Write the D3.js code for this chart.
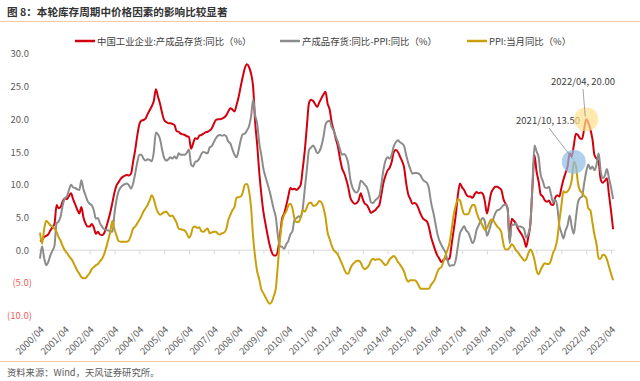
<!DOCTYPE html>
<html><head><meta charset="utf-8">
<script src="https://cdn.jsdelivr.net/npm/d3@7"></script>
<style>
body{margin:0;background:#fff}
svg{display:block}
text{font-family:"Noto Sans CJK SC","Noto Sans",sans-serif}
</style>
</head><body>
<svg id="c" width="640" height="381"></svg>
<script>
// ---------------- DATA (monthly, 2000/04 – 2023/05) ----------------
const startYear = 2000, startMonth = 4;

const seriesNames = ["中国工业企业:产成品存货:同比（%）", "产成品存货:同比-PPI:同比（%）", "PPI:当月同比（%）"];

const inventoryYoY = [
  1.4,1.6,2.0,2.2,2.4,3.0,3.5,4.0,6.9,
  6.4,6.6,7.5,7.9,7.8,8.3,8.7,7.8,7.0,6.2,5.6,6.6,
  5.0,4.1,3.6,3.6,4.0,3.5,2.5,2.8,2.4,2.3,2.6,3.5,
  4.6,5.8,7.3,8.8,9.9,10.4,10.9,11.2,11.4,11.5,11.4,11.7,
  13.5,15.3,17.5,19.2,19.8,19.9,20.1,20.8,21.4,22.0,22.8,24.6,
  23.5,22.4,21.0,19.9,19.6,19.4,19.4,19.3,19.1,18.2,18.1,17.8,
  17.7,17.6,17.4,17.3,15.5,16.3,17.1,17.0,17.5,17.6,17.8,18.0,
  18.1,18.3,18.6,19.3,19.9,20.0,20.0,20.1,20.3,20.6,21.2,21.7,
  21.5,21.2,22.2,23.4,25.0,26.5,27.8,28.4,28.0,27.0,25.0,19.5,
  16.0,11.8,8.5,5.8,4.0,2.3,0.8,-0.3,-0.8,-0.8,0.0,2.3,
  4.8,5.6,6.8,8.2,9.5,9.3,9.4,9.2,9.5,10.0,12.5,15.3,
  19.0,22.5,23.0,22.8,22.3,21.9,22.6,23.2,23.8,24.2,22.4,21.5,
  19.5,18.3,17.0,15.8,14.0,12.5,11.8,10.8,9.6,8.0,7.4,7.1,
  7.2,7.6,8.7,7.8,7.1,6.9,6.3,5.7,5.9,6.1,6.5,6.9,
  8.5,10.3,11.4,12.2,12.6,13.5,15.0,15.3,15.0,14.3,13.6,12.6,
  10.2,8.5,7.8,7.1,7.2,7.0,6.3,5.5,4.9,4.6,4.4,3.5,
  2.0,1.0,0.0,-0.8,-1.3,-1.8,-1.5,-1.2,-1.5,-1.2,1.0,3.2,
  5.5,8.5,10.2,9.6,9.2,8.5,8.2,8.2,8.0,8.5,8.9,8.7,
  8.8,8.6,7.5,5.6,7.0,8.7,9.3,9.7,9.7,9.5,9.2,7.8,
  7.1,6.4,1.5,4.8,4.5,4.1,3.3,2.8,2.3,1.6,0.5,2.0,
  4.0,9.5,14.5,12.0,10.5,8.5,8.2,7.6,7.4,7.6,7.0,6.9,
  8.0,8.4,8.2,9.5,10.8,11.8,12.8,14.8,14.3,16.0,17.8,17.6,
  17.1,17.0,18.5,20.0,19.5,18.5,17.0,14.5,14.0,13.5,10.8,10.3,
  10.6,11.0,8.5,6.0,3.2
];

const inventoryMinusPPI = [
  -1.3,0.6,-1.2,-2.3,-1.8,-0.8,-0.1,0.7,4.1,
  4.4,5.2,6.9,7.9,8.2,9.2,10.0,9.6,9.5,9.3,9.2,10.7,
  9.3,8.4,7.5,7.1,6.9,6.1,4.8,4.9,4.1,3.6,3.2,3.1,
  3.0,2.9,2.8,5.6,7.7,9.0,9.6,9.9,10.1,10.2,9.9,9.4,
  10.2,11.7,13.4,14.6,14.6,14.0,13.7,13.9,13.8,13.6,15.0,18.0,
  17.7,17.0,15.4,14.1,13.7,13.9,14.2,14.0,14.3,14.0,14.8,14.6,
  14.6,14.6,14.9,15.4,13.1,12.8,13.5,13.6,14.0,14.7,15.0,14.9,
  14.8,15.7,15.9,16.5,17.1,17.5,17.6,17.5,17.6,17.4,16.6,16.3,
  15.4,14.6,14.2,15.3,16.8,17.7,17.8,18.3,18.9,20.4,23.0,20.6,
  19.3,16.3,14.5,12.4,11.2,10.1,9.0,7.6,6.2,5.0,2.1,0.6,
  0.5,0.2,0.9,1.4,2.4,2.9,4.6,4.9,5.2,5.0,6.4,9.4,
  12.4,15.3,15.7,16.0,15.5,14.8,15.1,15.9,17.3,19.2,19.7,19.8,
  18.8,18.3,17.3,16.5,15.4,14.6,14.7,14.3,13.2,10.8,9.6,9.0,
  8.8,9.2,10.6,10.4,10.0,9.6,8.6,7.3,7.2,7.6,7.9,8.3,
  10.1,12.3,13.7,14.2,14.0,14.6,15.9,16.5,16.8,16.5,16.3,15.9,
  14.5,13.3,12.4,11.7,11.8,11.8,11.7,11.4,10.8,10.5,10.3,9.4,
  7.3,5.9,4.3,2.6,1.5,0.8,0.2,-0.4,-1.6,-2.4,-2.3,-2.3,
  -1.4,0.7,2.6,3.2,3.7,3.0,2.7,1.9,1.1,1.6,3.1,3.8,
  4.5,4.9,4.4,2.2,2.9,4.0,4.7,5.6,6.1,6.2,6.5,6.9,
  7.0,6.3,1.1,3.9,3.9,4.1,3.6,3.6,3.5,3.2,1.9,2.5,
  3.9,9.9,16.0,15.1,14.2,11.5,10.6,9.6,9.5,9.7,8.5,7.3,
  7.7,6.7,3.8,2.7,1.8,3.0,3.8,5.3,3.6,2.5,4.9,7.3,
  8.0,8.2,10.2,12.0,13.1,12.4,12.8,12.2,13.1,14.8,12.1,11.0,
  11.4,12.4,11.0,9.6,7.8
];

const ppiYoY = [
  2.7,1.0,3.2,4.5,4.2,3.8,3.6,3.3,2.8,
  2.0,1.4,0.6,0.0,-0.4,-0.9,-1.3,-1.8,-2.5,-3.1,-3.6,-4.1,
  -4.3,-4.3,-3.9,-3.5,-2.9,-2.6,-2.3,-2.1,-1.7,-1.3,-0.6,0.4,
  1.6,2.9,4.5,3.2,2.2,1.4,1.3,1.3,1.3,1.3,1.5,2.3,
  3.3,3.6,4.1,4.6,5.2,5.9,6.4,6.9,7.6,8.4,7.8,6.6,
  5.8,5.4,5.6,5.8,5.9,5.5,5.2,5.3,4.8,4.2,3.3,3.2,
  3.1,3.0,2.5,1.9,2.4,3.5,3.6,3.4,3.5,2.9,2.8,3.1,
  3.3,2.6,2.7,2.8,2.8,2.5,2.4,2.6,2.7,3.2,4.6,5.4,
  6.1,6.6,8.0,8.1,8.2,8.8,10.0,10.1,9.1,6.6,2.0,-1.1,
  -3.3,-4.5,-6.0,-6.6,-7.2,-7.8,-8.2,-7.9,-7.0,-5.8,-2.1,1.7,
  4.3,5.4,5.9,6.8,7.1,6.4,4.8,4.3,4.3,5.0,6.1,5.9,
  6.6,7.2,7.3,6.8,6.8,7.1,7.5,7.3,6.5,5.0,2.7,1.7,
  0.7,0.0,-0.3,-0.7,-1.4,-2.1,-2.9,-3.5,-3.6,-2.8,-2.2,-1.9,
  -1.6,-1.6,-1.9,-2.6,-2.9,-2.7,-2.3,-1.6,-1.3,-1.5,-1.4,-1.4,
  -1.6,-2.0,-2.3,-2.0,-1.4,-1.1,-0.9,-1.2,-1.8,-2.2,-2.7,-3.3,
  -4.3,-4.8,-4.6,-4.6,-4.6,-4.8,-5.4,-5.9,-5.9,-5.9,-5.9,-5.9,
  -5.3,-4.9,-4.3,-3.4,-2.8,-2.6,-1.7,-0.8,0.1,1.2,3.3,5.5,
  6.9,7.8,7.6,6.4,5.5,5.5,5.5,6.3,6.9,6.9,5.8,4.9,
  4.3,3.7,3.1,3.4,4.1,4.7,4.6,4.1,3.6,3.3,2.7,0.9,
  0.1,0.1,0.4,0.9,0.6,0.0,-0.3,-0.8,-1.2,-1.6,-1.4,-0.5,
  0.1,-0.4,-1.5,-3.1,-3.7,-3.0,-2.4,-2.0,-2.1,-2.1,-1.5,-0.4,
  0.3,1.7,4.4,6.8,9.0,8.8,9.0,9.5,10.7,13.5,12.9,10.3,
  9.1,8.8,8.3,8.0,6.4,6.1,4.2,2.3,0.9,-1.3,-1.3,-0.7,
  -0.8,-1.4,-2.5,-3.6,-4.6
];

const xTickLabels = ["2000/04","2001/04","2002/04","2003/04","2004/04","2005/04","2006/04","2007/04",
  "2008/04","2009/04","2010/04","2011/04","2012/04","2013/04","2014/04","2015/04","2016/04",
  "2017/04","2018/04","2019/04","2020/04","2021/04","2022/04","2023/04"];
const yTickValues = [-10,-5,0,5,10,15,20,25,30];

const annotationDates = ["2021/10","2022/04"];
const annotationValues = [13.5, 20.0];
const annotationLabels = ["2021/10, 13.50","2022/04, 20.00"];

// ---------------- BUILD ----------------
const months = inventoryYoY.map((_, i) => {
  const t = startMonth - 1 + i;
  const yy = startYear + Math.floor(t / 12), mm = t % 12 + 1;
  return yy + "/" + String(mm).padStart(2, "0");
});

const svg = d3.select("#c");
svg.append("rect").attr("width",640).attr("height",381).attr("fill","#fff");

const x = d3.scaleLinear().domain([0, months.length - 1]).range([40, 40 + (months.length - 1) * 2.069]);
const y = d3.scaleLinear().domain([-10, 30]).range([315.6, 53.9]);

// title
svg.append("text").attr("x",7).attr("y",16).attr("font-size",10.6).attr("font-weight","bold")
  .attr("fill","#333").text("图 8：本轮库存周期中价格因素的影响比较显著");
svg.append("line").attr("x1",0).attr("x2",640).attr("y1",21.5).attr("y2",21.5)
  .attr("stroke","#F8C9A4").attr("stroke-width",1.2);

// footer
svg.append("line").attr("x1",0).attr("x2",640).attr("y1",361.5).attr("y2",361.5)
  .attr("stroke","#F8C9A4").attr("stroke-width",1.2);
svg.append("text").attr("x",7).attr("y",376).attr("font-size",9.3)
  .attr("fill","#595959").text("资料来源：Wind，天风证券研究所。");

// y axis
const yAxis = d3.axisLeft(y).tickValues(yTickValues).tickSize(0).tickPadding(0)
  .tickFormat(v => v < 0 ? "(" + d3.format(".1f")(-v) + ")" : d3.format(".1f")(v));
const ya = svg.append("g").attr("transform","translate(32,0)").call(yAxis);
ya.select(".domain").remove();
ya.selectAll("text").attr("font-size",9.5).attr("font-family",'"Noto Sans CJK SC","Noto Sans",sans-serif')
  .attr("fill", d => d < 0 ? "#F0605D" : "#595959")
  .attr("dx", d => d < 0 ? 0 : -3);

// x axis at zero
const tickIdx = xTickLabels.map(l => months.indexOf(l));
const xAxis = d3.axisBottom(x).tickValues(tickIdx).tickSize(4).tickFormat(i => months[i]);
const xa = svg.append("g").attr("transform",`translate(0,${y(0)})`).call(xAxis);
xa.select(".domain").remove();
xa.selectAll(".tick line").attr("stroke","#D9D9D9");
svg.insert("line", "g").attr("x1",38).attr("x2",615).attr("y1",y(0)).attr("y2",y(0))
  .attr("stroke","#D9D9D9").attr("stroke-width",1);
xa.selectAll("text").attr("font-size",9.5).attr("fill","#595959")
  .attr("font-family",'"Noto Sans CJK SC","Noto Sans",sans-serif')
  .attr("text-anchor","end").attr("y",0).attr("dy","0.35em")
  .attr("transform",`translate(2,${328 - y(0)}) rotate(-45)`);

// lines
const colors = ["#D2000F","#8C8C8C","#C9A00B"];
const allSeries = [inventoryYoY, inventoryMinusPPI, ppiYoY];
const line = d3.line().x((d,i) => x(i)).y(d => y(d)).curve(d3.curveMonotoneX);
allSeries.forEach((s, k) => {
  svg.append("path").datum(s).attr("d", line).attr("fill","none")
    .attr("stroke", colors[k]).attr("stroke-width", 2).attr("stroke-linejoin","round");
});

// legend
const legendX = [75, 280, 467];
seriesNames.forEach((n, k) => {
  svg.append("line").attr("x1",legendX[k]).attr("x2",legendX[k] + 20).attr("y1",41).attr("y2",41)
    .attr("stroke",colors[k]).attr("stroke-width",2.5);
  svg.append("text").attr("x",legendX[k] + 22).attr("y",44.5).attr("font-size",9.4)
    .attr("fill","#404040").text(n);
});

// annotations
const circleColors = ["#8FBCE6","#FFE08A"];
const labelPos = [[548,124],[583,85]];
const leaderStart = [[549,128],[583,89]];
annotationDates.forEach((dt, k) => {
  const cx = x(months.indexOf(dt)), cy = y(annotationValues[k]);
  svg.append("circle").attr("cx",cx).attr("cy",cy).attr("r",12)
    .attr("fill",circleColors[k]).attr("opacity",0.7);
  svg.append("line").attr("x1",leaderStart[k][0]).attr("y1",leaderStart[k][1])
    .attr("x2",cx - 1).attr("y2",cy - 3).attr("stroke","#8C8C8C").attr("stroke-width",0.8);
  svg.append("text").attr("x",labelPos[k][0]).attr("y",labelPos[k][1]).attr("text-anchor","middle")
    .attr("font-size",9.5).attr("fill","#404040").text(annotationLabels[k]);
});
</script>
</body></html>
